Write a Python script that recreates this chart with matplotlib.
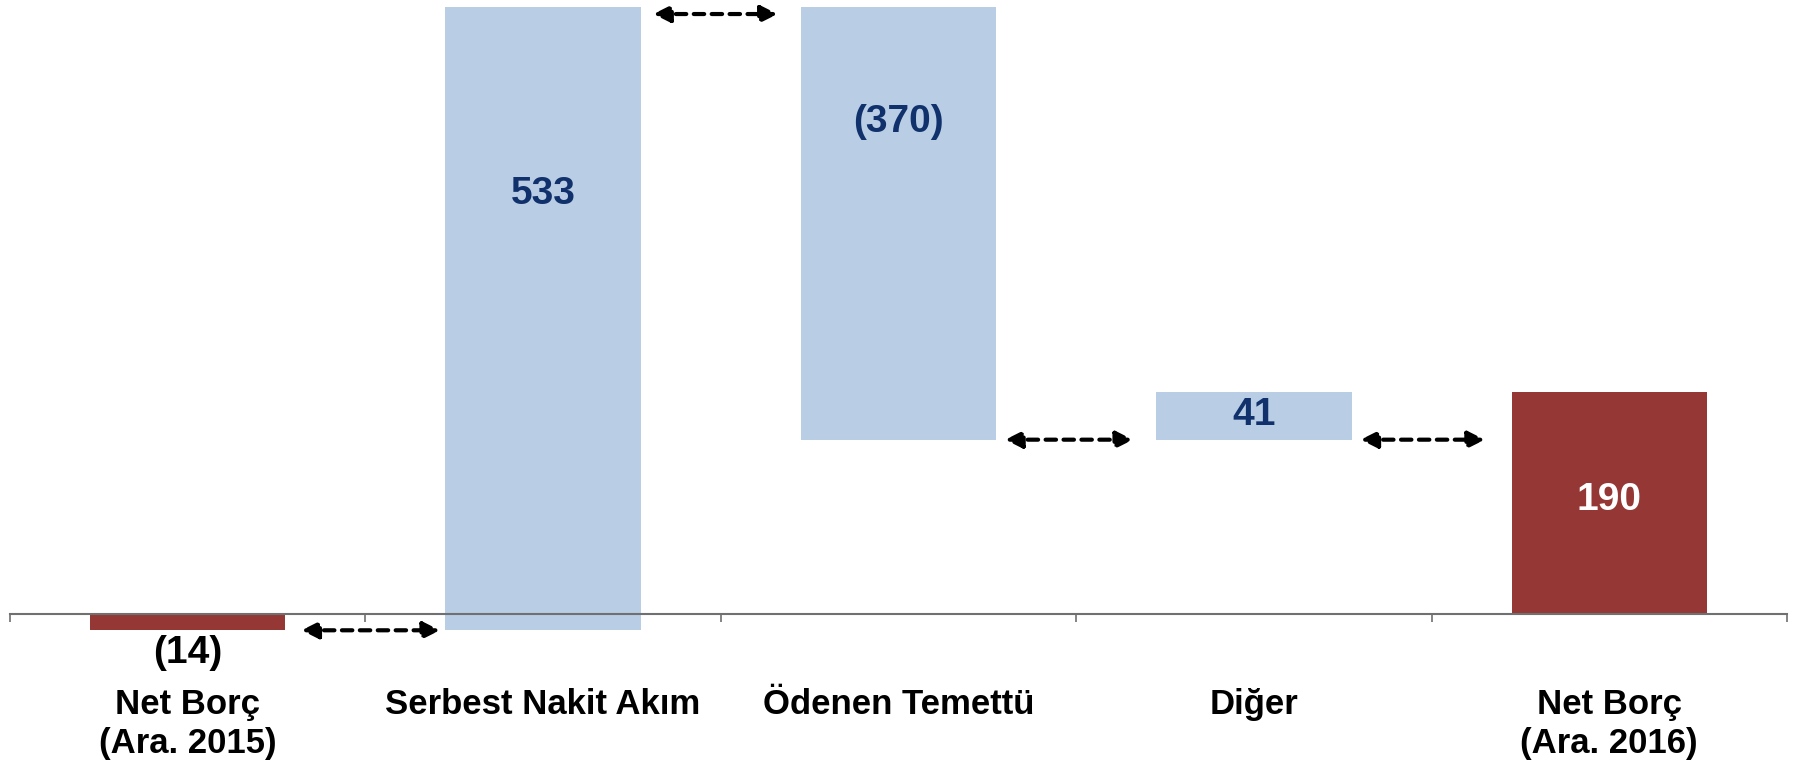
import numpy as np
import matplotlib.pyplot as plt

plt.rcParams['font.family'] = ['Liberation Sans', 'DejaVu Sans']

# ------------------------------------------------------------------ data
categories = ['Net Borç\n(Ara. 2015)', 'Serbest Nakit Akım', 'Ödenen Temettü',
              'Diğer', 'Net Borç\n(Ara. 2016)']
changes = [-14, 533, -370, 41, 190]
labels = ['(14)', '533', '(370)', '41', '190']
is_total = [True, False, False, False, True]

# y position (data units) of each value label
label_y = [-33, 359, 421, 170, 97]

red = '#953735'
blue = '#B9CDE5'
navy = '#10316B'

# ------------------------------------------------------------------ waterfall geometry
bottoms = []
heights = []
running = 0
for val, tot in zip(changes, is_total):
    if tot:
        bottoms.append(0)
        heights.append(val)
        running = val
    else:
        bottoms.append(running)
        heights.append(val)
        running += val

x = np.arange(len(categories))
colors = [red if t else blue for t in is_total]
text_colors = ['black', navy, navy, navy, 'white']

# ------------------------------------------------------------------ plot
fig = plt.figure(figsize=(17.93, 7.63), dpi=100)
ax = fig.add_axes([10 / 1793, 1 - 649 / 763, 1777 / 1793, 649 / 763])

ax.bar(x, heights, bottom=bottoms, width=0.55, color=colors, zorder=2)

for xi, lab, ly, tc in zip(x, labels, label_y, text_colors):
    ax.text(xi, ly, lab, ha='center', va='center', fontsize=28,
            fontweight='bold', color=tc, zorder=3)

# dashed connectors between bars
top_cf = bottoms[1] + heights[1]
arrow_y = [bottoms[1], top_cf - 6, bottoms[2] + heights[2], bottoms[3]]
arrow_x = [(0.32, 0.71), (1.31, 1.66), (2.30, 2.66), (3.30, 3.65)]
for (x0, x1), yy in zip(arrow_x, arrow_y):
    ax.annotate('', xy=(x1, yy), xytext=(x0, yy),
                arrowprops=dict(arrowstyle='<|-|>', color='black', lw=3,
                                linestyle=(0, (2.5, 1.8)), mutation_scale=25,
                                shrinkA=0, shrinkB=0), zorder=4)

ax.set_xlim(-0.5, 4.5)
ax.set_ylim(-30, 525)

for s in ['top', 'left', 'right']:
    ax.spines[s].set_visible(False)
ax.spines['bottom'].set_position(('data', 0))
ax.spines['bottom'].set_color('#707070')
ax.spines['bottom'].set_linewidth(1.5)

ax.set_yticks([])
ax.set_xticks(np.arange(-0.5, 5, 1))
ax.set_xticklabels([])
ax.tick_params(axis='x', direction='out', length=6, width=1.2, color='#707070')

for xi, cat in zip(x, categories):
    ax.text(xi, -63, cat, ha='center', va='top', fontsize=25,
            fontweight='bold', color='black', linespacing=1.25)

fig.savefig('out.png', dpi=100)
